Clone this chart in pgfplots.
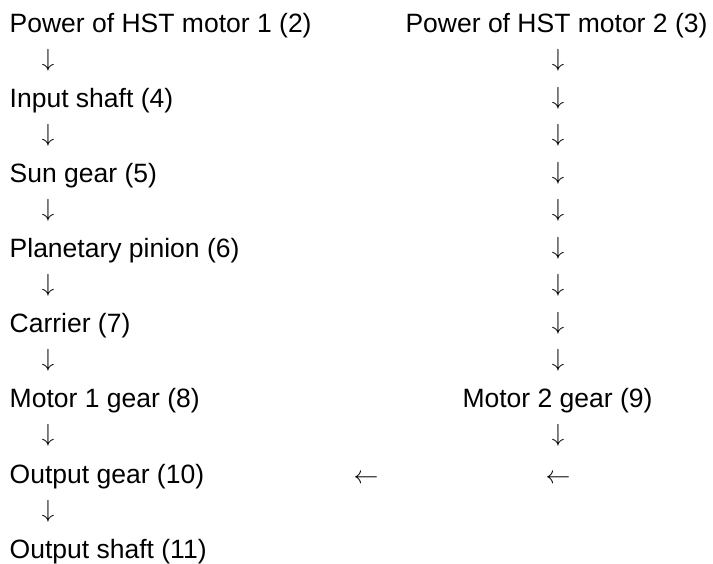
\documentclass[border=0pt]{standalone}
\usepackage{fontspec}
\setmainfont{Liberation Sans}
\usepackage{pgfplots}
\usepackage{pgfplotstable}
\pgfplotsset{compat=1.18}
\newcommand{\fs}{\fontsize{26.5bp}{30bp}\selectfont}
\pgfplotstableread[col sep=comma]{
x,y,label
9.5,529,Power of HST motor 1 (2)
9.5,454,Input shaft (4)
9.5,379,Sun gear (5)
9.5,304,Planetary pinion (6)
9.5,229,Carrier (7)
9.5,154,Motor 1 gear (8)
9.5,79,Output gear (10)
9.5,4,Output shaft (11)
}\lefttext
\pgfplotstableread[col sep=comma]{
x,y,label
556.5,529,Power of HST motor 2 (3)
557.5,154,Motor 2 gear (9)
}\righttext
\pgfplotstableread[col sep=comma]{
x,y
48,495
48,420
48,345
48,270
48,195
48,120
48,45
558,495
558,457.5
558,420
558,382.5
558,345
558,307.5
558,270
558,232.5
558,195
558,120
}\downarrows
\pgfplotstableread[col sep=comma]{
x,y
366,79
558,79
}\leftarrows
\begin{document}
\begin{tikzpicture}
\begin{axis}[
  hide axis, scale only axis,
  width=713bp, height=562bp,
  xmin=0, xmax=713, ymin=0, ymax=562,
  clip=false,
]
\addplot[draw=none, mark=none] coordinates {(0,0) (713,562)};
\addplot[draw=none, mark=none, nodes near coords, point meta=explicit symbolic,
  every node near coord/.style={anchor=base west, inner sep=0pt, font=\fs, text=black}]
  table[x=x, y=y, meta=label] {\lefttext};
\addplot[draw=none, mark=none, nodes near coords, point meta=explicit symbolic,
  every node near coord/.style={anchor=base, inner sep=0pt, font=\fs, text=black}]
  table[x=x, y=y, meta=label] {\righttext};
\addplot[draw=none, mark=none, nodes near coords={$\downarrow$},
  every node near coord/.style={anchor=base, inner sep=0pt, font=\fs, text=black}]
  table[x=x, y=y] {\downarrows};
\addplot[draw=none, mark=none, nodes near coords={$\leftarrow$},
  every node near coord/.style={anchor=base, inner sep=0pt, font=\fs, text=black}]
  table[x=x, y=y] {\leftarrows};
\end{axis}
\end{tikzpicture}
\end{document}
